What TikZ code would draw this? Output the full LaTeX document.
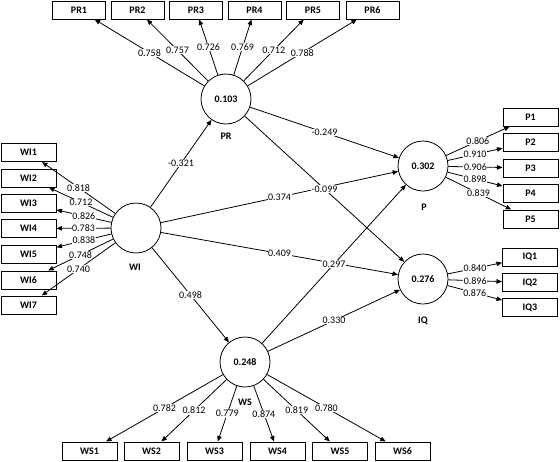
\documentclass[tikz,border=0pt]{standalone}
\usepackage{fontspec}
\setmainfont{Carlito}
\usetikzlibrary{arrows.meta}
\tikzset{
  lv/.style={draw, circle, line width=0.8pt, minimum size=50pt, inner sep=0pt, font=\fontsize{10}{12}\selectfont\bfseries},
  ind/.style={draw, rectangle, line width=1pt, minimum width=53pt, minimum height=18pt, inner sep=0pt, font=\fontsize{10}{12}\selectfont\bfseries},
  lvname/.style={font=\fontsize{10}{12}\selectfont\bfseries},
  val/.style={fill=white, inner sep=0.6pt, font=\fontsize{10}{12}\selectfont},
  arr/.style={line width=0.8pt, -{Triangle[length=5.5pt,width=4.5pt]}}
}
\begin{document}
\begin{tikzpicture}[x=1pt,y=-1pt]
\useasboundingbox (0,0) rectangle (560,461);
% latent variables
\node[lv] (PR) at (226,99) {0.103};
\node[lv] (WI) at (136,228) {};
\node[lv] (P) at (423,166) {0.302};
\node[lv] (IQ) at (423,279) {0.276};
\node[lv] (WS) at (245,362) {0.248};
\node[lvname] (PRname) at (226,136) {PR};
\node[lvname] (WIname) at (135,267) {WI};
\node[lvname] (Pname) at (424,207) {P};
\node[lvname] (IQname) at (423,321) {IQ};
\node[lvname] (WSname) at (245,402) {WS};
% PR indicators
\node[ind] (PR1) at (79,10) {PR1};
\node[ind] (PR2) at (137.5,10) {PR2};
\node[ind] (PR3) at (196,10) {PR3};
\node[ind] (PR4) at (254.5,10) {PR4};
\node[ind] (PR5) at (313,10) {PR5};
\node[ind] (PR6) at (372.5,10) {PR6};
% WI indicators
\node[ind, minimum width=55pt] (WI1) at (28.5,152.5) {WI1};
\node[ind, minimum width=55pt] (WI2) at (28.5,178) {WI2};
\node[ind, minimum width=55pt] (WI3) at (28.5,203.5) {WI3};
\node[ind, minimum width=55pt] (WI4) at (28.5,228.5) {WI4};
\node[ind, minimum width=55pt] (WI5) at (28.5,254) {WI5};
\node[ind, minimum width=55pt] (WI6) at (28.5,280) {WI6};
\node[ind, minimum width=55pt] (WI7) at (28.5,305) {WI7};
% P indicators
\node[ind, minimum width=55pt] (P1) at (530.5,117) {P1};
\node[ind, minimum width=55pt] (P2) at (530.5,142) {P2};
\node[ind, minimum width=55pt] (P3) at (530.5,168) {P3};
\node[ind, minimum width=55pt] (P4) at (530.5,193) {P4};
\node[ind, minimum width=55pt] (P5) at (530.5,219) {P5};
% IQ indicators
\node[ind, minimum width=55pt] (IQ1) at (530,257) {IQ1};
\node[ind, minimum width=55pt] (IQ2) at (530,282.5) {IQ2};
\node[ind, minimum width=55pt] (IQ3) at (530,307.5) {IQ3};
% WS indicators
\node[ind, minimum width=55pt] (WS1) at (89.5,451) {WS1};
\node[ind, minimum width=55pt] (WS2) at (151.5,451) {WS2};
\node[ind, minimum width=55pt] (WS3) at (214.5,451) {WS3};
\node[ind, minimum width=55pt] (WS4) at (277.5,451) {WS4};
\node[ind, minimum width=55pt] (WS5) at (340,451) {WS5};
\node[ind, minimum width=55pt] (WS6) at (402.5,451) {WS6};
% outer loadings
\draw[arr] (PR) -- node[val] {0.758} (PR1);
\draw[arr] (PR) -- node[val] {0.757} (PR2);
\draw[arr] (PR) -- node[val] {0.726} (PR3);
\draw[arr] (PR) -- node[val] {0.769} (PR4);
\draw[arr] (PR) -- node[val] {0.712} (PR5);
\draw[arr] (PR) -- node[val] {0.788} (PR6);
\draw[arr] (WI) -- node[val] {0.818} (WI1);
\draw[arr] (WI) -- node[val] {0.712} (WI2);
\draw[arr] (WI) -- node[val] {0.826} (WI3);
\draw[arr] (WI) -- node[val] {0.783} (WI4);
\draw[arr] (WI) -- node[val] {0.838} (WI5);
\draw[arr] (WI) -- node[val] {0.748} (WI6);
\draw[arr] (WI) -- node[val] {0.740} (WI7);
\draw[arr] (P) -- node[val] {0.806} (P1);
\draw[arr] (P) -- node[val] {0.910} (P2);
\draw[arr] (P) -- node[val] {0.906} (P3);
\draw[arr] (P) -- node[val] {0.898} (P4);
\draw[arr] (P) -- node[val] {0.839} (P5);
\draw[arr] (IQ) -- node[val] {0.840} (IQ1);
\draw[arr] (IQ) -- node[val] {0.896} (IQ2);
\draw[arr] (IQ) -- node[val] {0.876} (IQ3);
\draw[arr] (WS) -- node[val] {0.782} (WS1);
\draw[arr] (WS) -- node[val] {0.812} (WS2);
\draw[arr] (WS) -- node[val] {0.779} (WS3);
\draw[arr] (WS) -- node[val] {0.874} (WS4);
\draw[arr] (WS) -- node[val] {0.819} (WS5);
\draw[arr] (WS) -- node[val] {0.780} (WS6);
% path coefficients
\draw[arr] (WI) -- node[val] {-0.321} (PR);
\draw[arr] (WI) -- node[val] {0.374} (P);
\draw[arr] (WI) -- node[val] {0.409} (IQ);
\draw[arr] (WI) -- node[val] {0.498} (WS);
\draw[arr] (PR) -- node[val] {-0.249} (P);
\draw[arr] (PR) -- node[val] {-0.099} (IQ);
\draw[arr] (WS) -- node[val] {0.297} (P);
\draw[arr] (WS) -- node[val] {0.330} (IQ);
\end{tikzpicture}
\end{document}
